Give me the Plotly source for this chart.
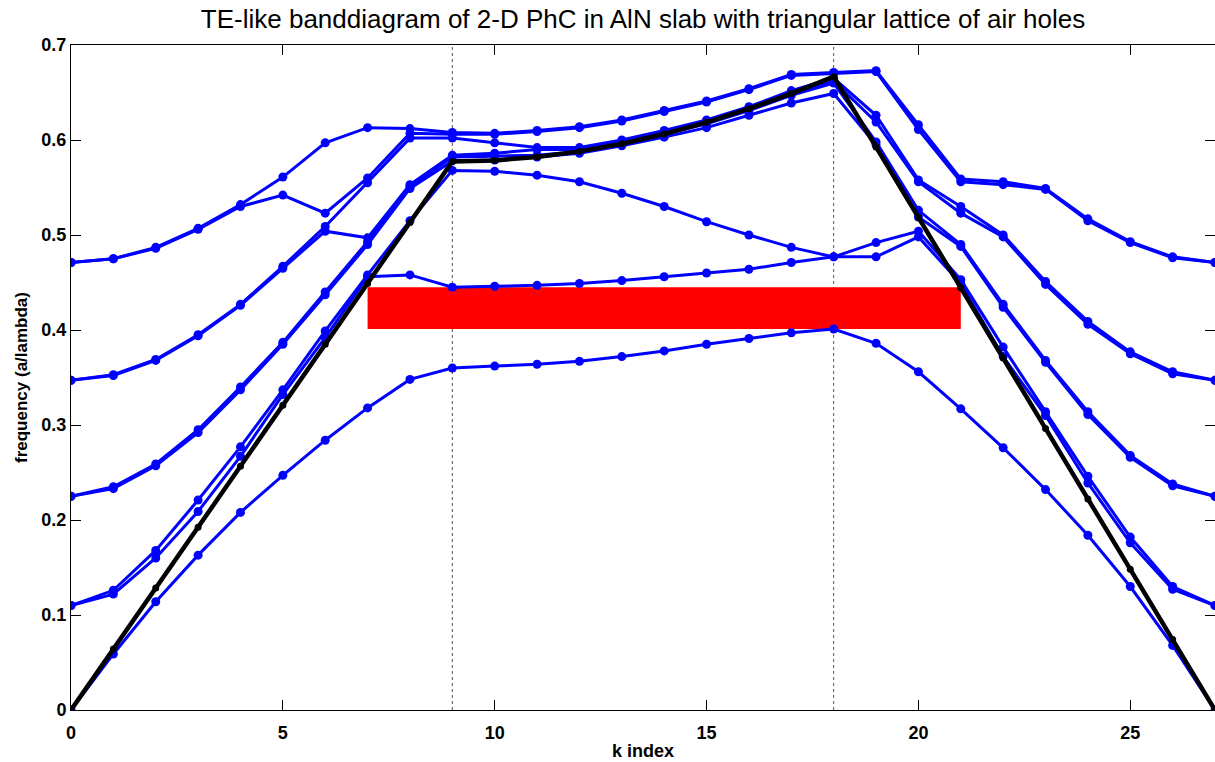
import plotly.graph_objects as go

# k-point indices (Gamma -> M -> K -> Gamma)
k_index = list(range(28))

# TE-like bands (sorted frequencies at each k-point), a/lambda
band1 = [0.000, 0.059, 0.114, 0.163, 0.208, 0.247, 0.284, 0.318, 0.348, 0.360,
         0.362, 0.364, 0.367, 0.372, 0.378, 0.385, 0.391, 0.397, 0.401,
         0.386, 0.356, 0.317, 0.276, 0.232, 0.184, 0.130, 0.068, 0.000]
band2 = [0.110, 0.122, 0.160, 0.209, 0.267, 0.332, 0.392, 0.456, 0.458, 0.445,
         0.446, 0.447, 0.449, 0.452, 0.456, 0.460, 0.464, 0.471, 0.477,
         0.477, 0.498, 0.449, 0.372, 0.310, 0.239, 0.176, 0.127, 0.110]
band3 = [0.110, 0.126, 0.168, 0.221, 0.277, 0.337, 0.399, 0.458, 0.515, 0.568,
         0.567, 0.563, 0.556, 0.544, 0.530, 0.514, 0.500, 0.487, 0.477,
         0.492, 0.504, 0.453, 0.382, 0.314, 0.246, 0.182, 0.130, 0.110]
band4 = [0.225, 0.233, 0.257, 0.292, 0.337, 0.385, 0.437, 0.490, 0.549, 0.578,
         0.579, 0.582, 0.586, 0.594, 0.603, 0.613, 0.626, 0.639, 0.649,
         0.595, 0.519, 0.488, 0.424, 0.366, 0.311, 0.266, 0.236, 0.225]
band5 = [0.225, 0.235, 0.259, 0.295, 0.340, 0.387, 0.440, 0.493, 0.551, 0.582,
         0.583, 0.584, 0.588, 0.596, 0.606, 0.617, 0.631, 0.647, 0.660,
         0.598, 0.526, 0.490, 0.427, 0.368, 0.314, 0.268, 0.238, 0.225]
band6 = [0.347, 0.352, 0.368, 0.394, 0.426, 0.465, 0.504, 0.497, 0.553, 0.584,
         0.586, 0.590, 0.590, 0.598, 0.608, 0.619, 0.633, 0.649, 0.662,
         0.619, 0.556, 0.523, 0.498, 0.448, 0.406, 0.375, 0.354, 0.347]
band7 = [0.347, 0.353, 0.369, 0.395, 0.427, 0.467, 0.509, 0.555, 0.602, 0.602,
         0.597, 0.592, 0.592, 0.600, 0.610, 0.621, 0.635, 0.652, 0.665,
         0.626, 0.558, 0.530, 0.500, 0.451, 0.409, 0.377, 0.356, 0.347]
band8 = [0.471, 0.475, 0.486, 0.506, 0.530, 0.542, 0.523, 0.560, 0.607, 0.606,
         0.606, 0.609, 0.613, 0.620, 0.630, 0.640, 0.653, 0.668, 0.670,
         0.672, 0.611, 0.556, 0.553, 0.548, 0.515, 0.492, 0.476, 0.471]
band9 = [0.471, 0.475, 0.487, 0.507, 0.532, 0.561, 0.597, 0.613, 0.612, 0.608,
         0.607, 0.610, 0.614, 0.621, 0.631, 0.641, 0.654, 0.669, 0.671,
         0.673, 0.616, 0.559, 0.556, 0.549, 0.517, 0.493, 0.477, 0.471]
bands = [band1, band2, band3, band4, band5, band6, band7, band8, band9]

# light line
light_line = [0.0000, 0.0641, 0.1283, 0.1924, 0.2566, 0.3207, 0.3849, 0.4490, 0.5132, 0.5774,
              0.5785, 0.5821, 0.5880, 0.5961, 0.6063, 0.6186, 0.6329, 0.6489, 0.6667,
              0.5926, 0.5185, 0.4444, 0.3704, 0.2963, 0.2222, 0.1481, 0.0741, 0.0000]

# high-symmetry points (M, K) and photonic band gap extent in k
sym_k = [9, 18]
gap_k = [7, 21]
gap_lo = max(band1)
gap_hi = min(band2[gap_k[0]:gap_k[1] + 1])

x_ticks = [0, 5, 10, 15, 20, 25]
y_ticks = [0, 0.1, 0.2, 0.3, 0.4, 0.5, 0.6, 0.7]
y_tick_text = ["0", "0.1", "0.2", "0.3", "0.4", "0.5", "0.6", "0.7"]

fig = go.Figure()

# band gap rectangle
fig.add_trace(go.Scatter(
    x=[gap_k[0], gap_k[1], gap_k[1], gap_k[0], gap_k[0]],
    y=[gap_lo, gap_lo, gap_hi, gap_hi, gap_lo],
    fill="toself", fillcolor="#ff0000", mode="lines",
    line=dict(width=0, color="#ff0000"), hoverinfo="skip", showlegend=False))

for b in bands:
    fig.add_trace(go.Scatter(
        x=k_index, y=b, mode="lines+markers",
        line=dict(color="#0000ff", width=3),
        marker=dict(color="#0000ff", size=9, symbol="circle"),
        showlegend=False))

fig.add_trace(go.Scatter(
    x=k_index, y=light_line, mode="lines+markers",
    line=dict(color="#000000", width=4.5),
    marker=dict(color="#000000", size=7, symbol="circle"),
    showlegend=False))

for kx in sym_k:
    fig.add_shape(type="line", xref="x", yref="y", x0=kx, x1=kx, y0=0, y1=0.7,
                  line=dict(color="#555555", width=1, dash="dot"), layer="below")

tick_font = dict(family="Liberation Sans", size=18, color="black", weight="bold")

fig.update_layout(
    width=1215, height=762,
    margin=dict(l=71, r=0, t=45, b=52),
    paper_bgcolor="white", plot_bgcolor="white",
    title=dict(
        text="TE-like banddiagram of 2-D PhC in AlN slab with triangular lattice of air holes",
        font=dict(family="Liberation Sans", size=26, color="black"),
        x=0.5, xanchor="center", xref="paper", y=1 - 19 / 762, yanchor="middle", yref="container"),
    xaxis=dict(
        range=[0, 27], tickvals=x_ticks, ticks="inside", ticklen=10, tickwidth=1,
        tickcolor="black", showline=True, linecolor="black", linewidth=1, mirror="ticks",
        showgrid=False, zeroline=False, tickfont=tick_font, ticklabelstandoff=6,
        title=dict(text="k index", font=dict(family="Liberation Sans", size=18,
                                             color="black", weight="bold"), standoff=2)),
    yaxis=dict(
        range=[0, 0.7], tickvals=y_ticks, ticktext=y_tick_text, ticks="inside", ticklen=10,
        tickwidth=1, tickcolor="black", showline=True, linecolor="black", linewidth=1,
        mirror="ticks", showgrid=False, zeroline=False, tickfont=tick_font,
        title=dict(text="frequency (a/lambda)", font=dict(family="Liberation Sans", size=17,
                                                          color="black", weight="bold"), standoff=9)),
)

fig.write_html("out.html")
